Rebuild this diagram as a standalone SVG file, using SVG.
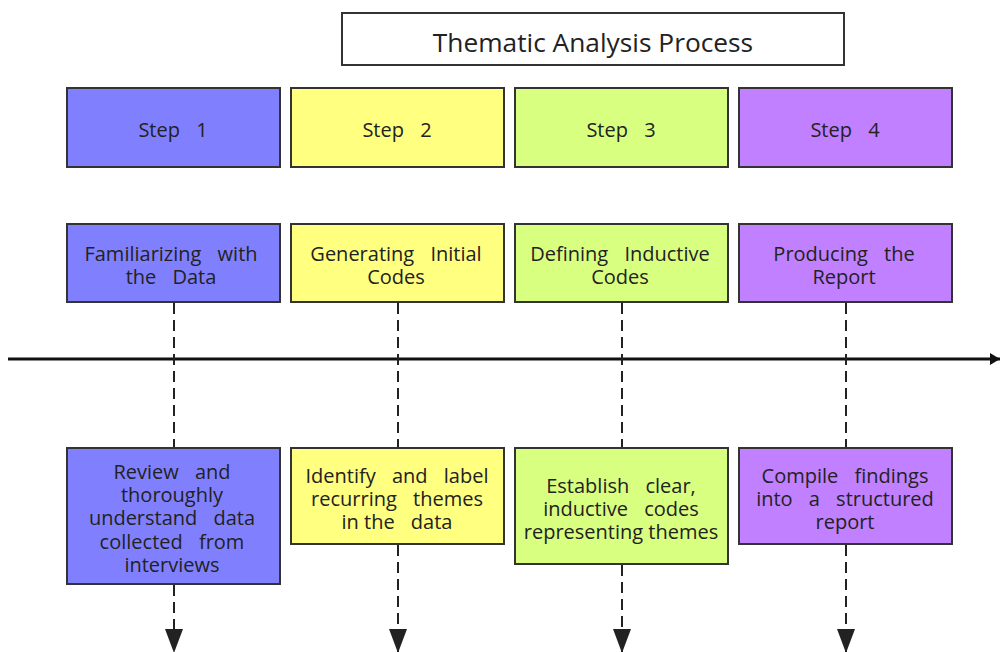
<svg xmlns="http://www.w3.org/2000/svg" width="1000" height="652" viewBox="0 0 1000 652">
<style>
text{font-family:"Open Sans","Noto Sans",sans-serif;font-size:20px;fill:#222;text-anchor:middle;word-spacing:11px}
.box{stroke:#333;stroke-width:2}
.b1{fill:#8080ff}.b2{fill:#ffff80}.b3{fill:#d9ff80}.b4{fill:#c080ff}
.dash{stroke:#222;stroke-width:2;stroke-dasharray:11 6;fill:none}
</style>
<defs>
<marker id="ah" viewBox="0 0 10 12" refX="10" refY="6" markerWidth="3.5" markerHeight="4.2" orient="auto" markerUnits="strokeWidth"><path d="M0,0L10,6L0,12z" fill="#111"/></marker>
<marker id="ad" viewBox="0 0 12 9" refX="12" refY="4.5" markerWidth="12" markerHeight="9" orient="auto" markerUnits="strokeWidth"><path d="M0,0L12,4.5L0,9z" fill="#222"/></marker>
</defs>
<g id="title"><rect x="342" y="13" width="502" height="52" fill="#fff" stroke="#333" stroke-width="2"/><text x="593" y="52" style="font-size:26.3px;word-spacing:0">Thematic Analysis Process</text></g>
<g id="connectors">
<line x1="8" y1="359" x2="1000" y2="359" stroke="#111" stroke-width="3" marker-end="url(#ah)"/>
<line class="dash" x1="174" y1="303" x2="174" y2="448"/>
<line class="dash" x1="398" y1="303" x2="398" y2="448"/>
<line class="dash" x1="622" y1="303" x2="622" y2="448"/>
<line class="dash" x1="846" y1="303" x2="846" y2="448"/>
<line class="dash" x1="174" y1="585" x2="174" y2="653" marker-end="url(#ad)"/>
<line class="dash" x1="398" y1="545" x2="398" y2="653" marker-end="url(#ad)"/>
<line class="dash" x1="622" y1="565" x2="622" y2="653" marker-end="url(#ad)"/>
<line class="dash" x1="846" y1="545" x2="846" y2="653" marker-end="url(#ad)"/>
</g>
<g id="step1"><rect class="box b1" x="67" y="88" width="213" height="79"/><text x="173" y="137">Step 1</text></g>
<g id="step2"><rect class="box b2" x="291" y="88" width="213" height="79"/><text x="397" y="137">Step 2</text></g>
<g id="step3"><rect class="box b3" x="515" y="88" width="213" height="79"/><text x="621" y="137">Step 3</text></g>
<g id="step4"><rect class="box b4" x="739" y="88" width="213" height="79"/><text x="845" y="137">Step 4</text></g>
<g id="phase1"><rect class="box b1" x="67" y="224" width="213" height="78"/><text x="171" y="261">Familiarizing with</text><text x="171" y="284">the Data</text></g>
<g id="phase2"><rect class="box b2" x="291" y="224" width="213" height="78"/><text x="396" y="261">Generating Initial</text><text x="396" y="284">Codes</text></g>
<g id="phase3"><rect class="box b3" x="515" y="224" width="213" height="78"/><text x="620" y="261">Defining Inductive</text><text x="620" y="284">Codes</text></g>
<g id="phase4"><rect class="box b4" x="739" y="224" width="213" height="78"/><text x="844" y="261">Producing the</text><text x="844" y="284">Report</text></g>
<g id="desc1"><rect class="box b1" x="67" y="448" width="213" height="136"/><text x="172" y="479">Review and</text><text x="172" y="502">thoroughly</text><text x="172" y="525">understand data</text><text x="172" y="549">collected from</text><text x="172" y="572">interviews</text></g>
<g id="desc2"><rect class="box b2" x="291" y="448" width="213" height="96"/><text x="397" y="483">Identify and label</text><text x="397" y="506">recurring themes</text><text x="397" y="529" style="word-spacing:0">in the<tspan dx="11"> data</tspan></text></g>
<g id="desc3"><rect class="box b3" x="515" y="448" width="213" height="116"/><text x="621" y="493">Establish clear,</text><text x="621" y="516">inductive codes</text><text x="621" y="539" style="word-spacing:0">representing themes</text></g>
<g id="desc4"><rect class="box b4" x="739" y="448" width="213" height="96"/><text x="845" y="483">Compile findings</text><text x="845" y="506">into a structured</text><text x="845" y="529">report</text></g>
</svg>
